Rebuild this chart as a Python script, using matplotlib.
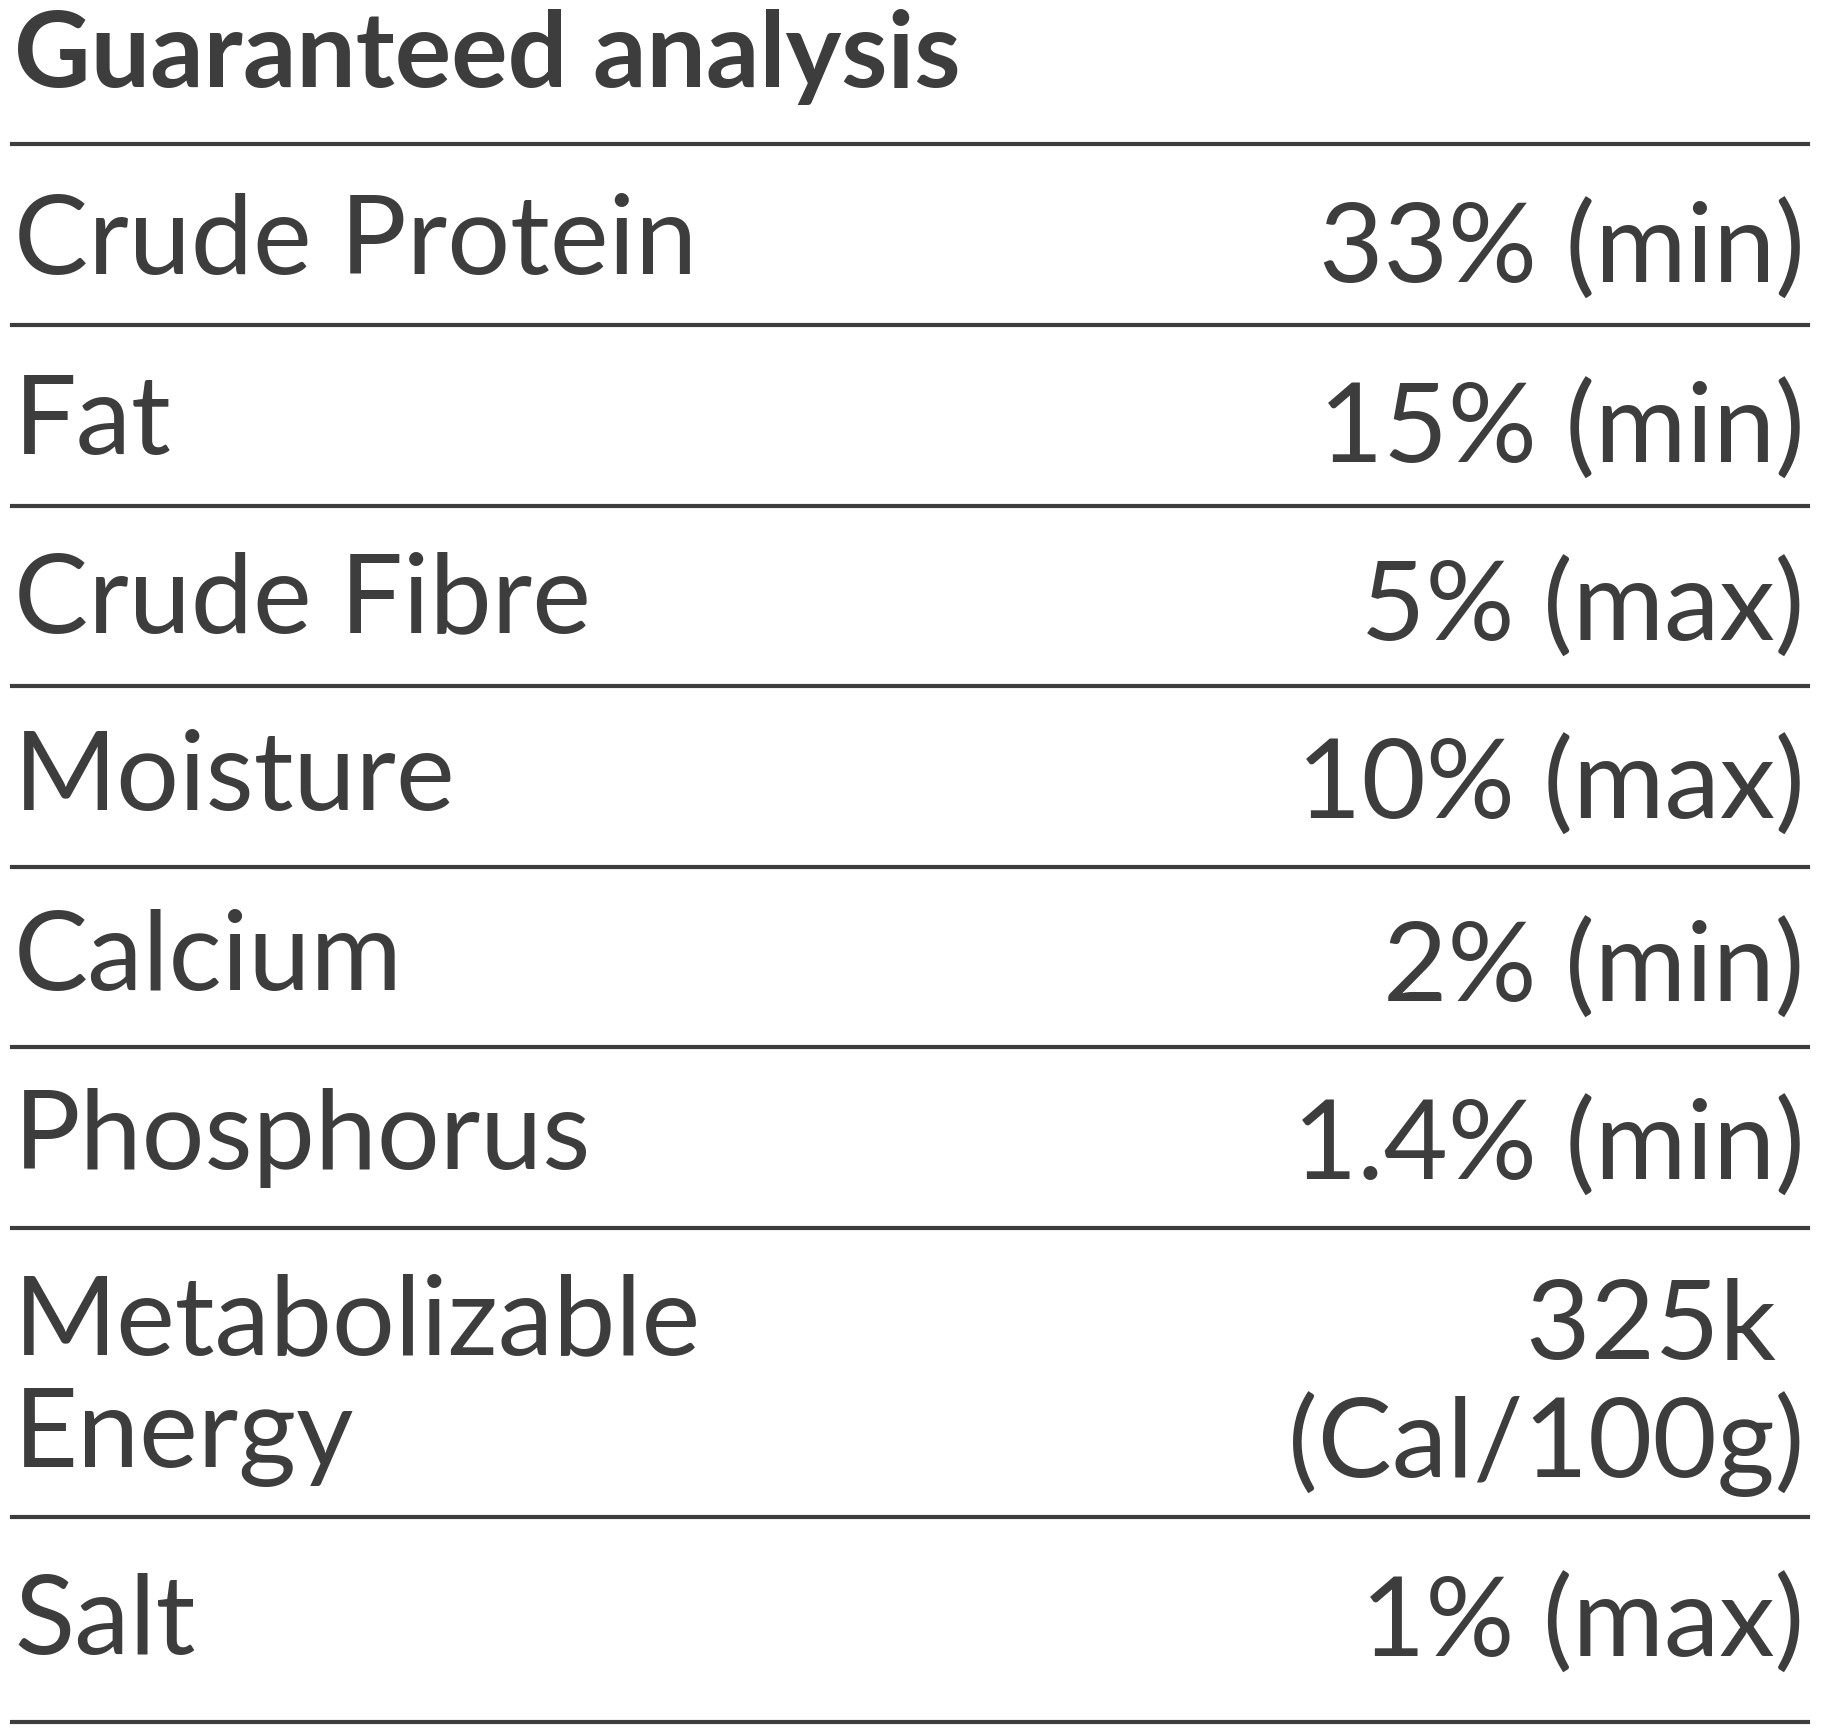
import matplotlib.pyplot as plt

W, H = 1560, 1490  # reference layout units

title = "Guaranteed analysis"
labels = ["Crude Protein", "Fat", "Crude Fibre", "Moisture", "Calcium",
          "Phosphorus", "Metabolizable\nEnergy", "Salt"]
values = ["33% (min)", "15% (min)", "5% (max)", "10% (max)", "2% (min)",
          "1.4% (min)", "325k \n(Cal/100g)", "1% (max)"]
label_base = [235, 390, 543, 695, 850, 1003, 1163, 1420]
value_base = [243, 397, 550, 703, 860, 1013, 1167, 1422]
rules = [124, 279, 434, 589, 744, 899, 1054, 1302, 1478]

col = "#3d3d3d"
plt.rcParams['font.family'] = ['Lato', 'DejaVu Sans']

fig = plt.figure(figsize=(18.22, 17.36), dpi=100)
ax = fig.add_axes([0, 0, 1, 1])
ax.set_xlim(0, W)
ax.set_ylim(H, 0)
ax.axis("off")

ax.text(12, 75, title, fontsize=76, fontweight="bold", color=col, va="baseline")
for y in rules:
    ax.plot([10, 1548], [y, y], color=col, lw=3)
for lab, lb, val, vb in zip(labels, label_base, values, value_base):
    nl = lab.count("\n")
    ax.text(12, lb, lab, fontsize=80, color=col, va="baseline" if nl == 0 else "top",
            linespacing=1.15) if nl == 0 else ax.text(12, lb - 70, lab, fontsize=80,
            color=col, va="top", linespacing=1.15)
    if "\n" in val:
        ax.text(1545, vb - 70, val, fontsize=80, color=col, va="top", ha="right",
                linespacing=1.15)
    else:
        ax.text(1545, vb, val, fontsize=80, color=col, va="baseline", ha="right")

fig.savefig("out.png", dpi=100)
